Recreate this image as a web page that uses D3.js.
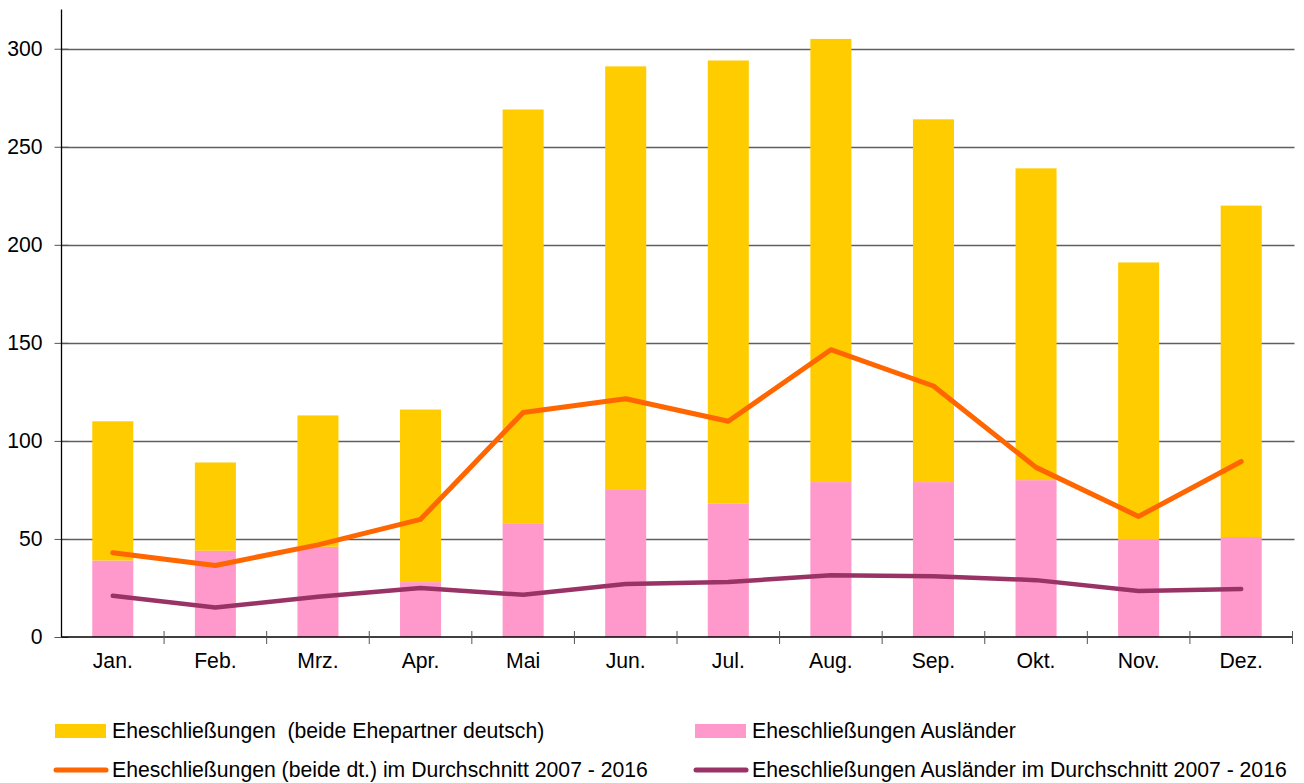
<!DOCTYPE html>
<html>
<head>
<meta charset="utf-8">
<script src="https://cdn.jsdelivr.net/npm/d3@7"></script>
<style>
  body { margin: 0; background: #fff; }
  svg { display: block; font-family: "Liberation Sans", Arial, sans-serif; }
  text { white-space: pre; }
</style>
</head>
<body>
<svg id="chart" width="1304" height="783"></svg>
<script>
// data
const months = ['Jan.', 'Feb.', 'Mrz.', 'Apr.', 'Mai', 'Jun.', 'Jul.', 'Aug.', 'Sep.', 'Okt.', 'Nov.', 'Dez.'];
const auslaender = [39, 44, 46, 28, 58, 75, 68, 79, 79, 80, 50, 51];
const deutsch = [71, 45, 67, 88, 211, 216, 226, 226, 185, 159, 141, 169];
const avgDeutsch = [43, 36.5, 47, 60, 114.5, 121.5, 110, 146.5, 128, 86.5, 61.5, 89.5];
const avgAuslaender = [21, 15, 20.5, 25, 21.5, 27, 28, 31.5, 31, 29, 23.5, 24.5];
const yTicks = [0, 50, 100, 150, 200, 250, 300];
const legendLabels = [
  'Eheschließungen  (beide Ehepartner deutsch)',
  'Eheschließungen Ausländer',
  'Eheschließungen (beide dt.) im Durchschnitt 2007 - 2016',
  'Eheschließungen Ausländer im Durchschnitt 2007 - 2016'
];

const colors = { deutsch: '#ffcc00', ausl: '#ff99cc', avgD: '#ff6600', avgA: '#993366' };
const fontSize = 21.2;

const svg = d3.select('#chart');
const margin = { left: 61.5, right: 1292.5, top: 9.5, bottom: 637 };

const x = d3.scaleBand().domain(months).range([margin.left, margin.right]).paddingInner(0.6).paddingOuter(0.3);
const xBounds = d3.scaleBand().domain(months).range([margin.left, margin.right]);
const y = d3.scaleLinear().domain([0, 320]).range([margin.bottom, margin.top]);

// gridlines
svg.append('g').selectAll('line')
  .data(yTicks.filter(d => d > 0))
  .join('line')
  .attr('x1', margin.left).attr('x2', margin.right + 2)
  .attr('y1', d => Math.round(y(d)) + 0.5).attr('y2', d => Math.round(y(d)) + 0.5)
  .attr('stroke', '#5f5f5f').attr('stroke-width', 1.3);

// stacked bars
const rows = months.map((m, i) => ({ month: m, ausl: auslaender[i], deutsch: deutsch[i] }));
const stack = d3.stack().keys(['ausl', 'deutsch'])(rows);
svg.append('g').selectAll('g')
  .data(stack)
  .join('g')
  .attr('fill', d => d.key === 'ausl' ? colors.ausl : colors.deutsch)
  .selectAll('rect')
  .data(d => d)
  .join('rect')
  .attr('x', d => x(d.data.month))
  .attr('width', x.bandwidth())
  .attr('y', d => y(d[1]))
  .attr('height', d => y(d[0]) - y(d[1]));

// axes
const yAxis = d3.axisLeft(y).tickValues(yTicks).tickSize(7).tickPadding(12);
const gy = svg.append('g').attr('transform', `translate(${margin.left},0)`).call(yAxis);
gy.select('.domain').remove();
gy.selectAll('.tick line').attr('x2', 7).attr('x1', -7).attr('stroke', '#555');
gy.selectAll('.tick text').attr('font-size', fontSize).attr('fill', '#000').attr('font-family', '"Liberation Sans", Arial, sans-serif');
svg.append('line')
  .attr('x1', margin.left).attr('x2', margin.left)
  .attr('y1', margin.top).attr('y2', margin.bottom)
  .attr('stroke', '#000').attr('stroke-width', 1.3);

const gx = svg.append('g').attr('transform', `translate(0,${margin.bottom})`)
  .call(d3.axisBottom(x).tickSize(0).tickPadding(16));
gx.select('.domain').remove();
gx.selectAll('.tick text').attr('font-size', fontSize).attr('fill', '#000').attr('font-family', '"Liberation Sans", Arial, sans-serif');
svg.append('line')
  .attr('x1', margin.left).attr('x2', margin.right)
  .attr('y1', margin.bottom).attr('y2', margin.bottom)
  .attr('stroke', '#000').attr('stroke-width', 1.5);
svg.append('g').selectAll('line')
  .data(months.map(m => xBounds(m)).concat([margin.right]).slice(1))
  .join('line')
  .attr('x1', d => d).attr('x2', d => d)
  .attr('y1', margin.bottom - 6).attr('y2', margin.bottom + 7)
  .attr('stroke', '#555').attr('stroke-width', 1);

// average lines
const line = d3.line()
  .x((d, i) => x(months[i]) + x.bandwidth() / 2)
  .y(d => y(d));
svg.append('path').datum(avgAuslaender)
  .attr('d', line).attr('fill', 'none')
  .attr('stroke', colors.avgA).attr('stroke-width', 4.5)
  .attr('stroke-linejoin', 'round').attr('stroke-linecap', 'round');
svg.append('path').datum(avgDeutsch)
  .attr('d', line).attr('fill', 'none')
  .attr('stroke', colors.avgD).attr('stroke-width', 5)
  .attr('stroke-linejoin', 'round').attr('stroke-linecap', 'round');

// legend
const legendItems = [
  { label: legendLabels[0], type: 'rect', color: colors.deutsch, x: 55, y: 731 },
  { label: legendLabels[1], type: 'rect', color: colors.ausl, x: 695, y: 731 },
  { label: legendLabels[2], type: 'line', color: colors.avgD, x: 55, y: 770 },
  { label: legendLabels[3], type: 'line', color: colors.avgA, x: 695, y: 770 }
];
const lg = svg.append('g').selectAll('g').data(legendItems).join('g')
  .attr('transform', d => `translate(${d.x},${d.y})`);
lg.filter(d => d.type === 'rect').append('rect')
  .attr('x', 0).attr('y', -7).attr('width', 51).attr('height', 14)
  .attr('fill', d => d.color);
lg.filter(d => d.type === 'line').append('line')
  .attr('x1', 1).attr('x2', 51).attr('y1', 0).attr('y2', 0)
  .attr('stroke', d => d.color).attr('stroke-width', 5).attr('stroke-linecap', 'round');
lg.append('text')
  .attr('x', 57).attr('y', 0).attr('dy', '0.35em')
  .attr('font-size', fontSize).attr('fill', '#000')
  .text(d => d.label);
</script>
</body>
</html>
